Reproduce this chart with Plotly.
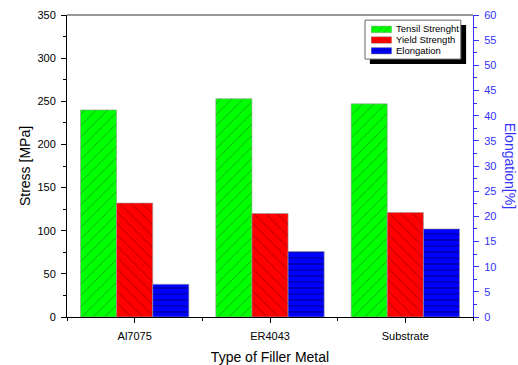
import plotly.graph_objects as go

# Filler metal categories and measured properties
fillers = ["Al7075", "ER4043", "Substrate"]
tensile_strength = [240, 253, 247]      # MPa
yield_strength = [132, 120, 121]        # MPa
elongation = [6.5, 13.0, 17.5]          # %

series_names = ["Tensil Strenght", "Yield Strength", "Elongation"]
series_colors = ["#00ff00", "#ff0000", "#0000ff"]
hatch_shapes = ["/", "\\", "-"]
hatch_colors = ["#1a5a1a", "#5a0000", "#000033"]

bar_w = 0.267
font = "Arial, Liberation Sans, sans-serif"
positions = list(range(len(fillers)))


def pattern(i, size):
    return dict(shape=hatch_shapes[i], bgcolor=series_colors[i],
                fgcolor=hatch_colors[i], fgopacity=0.75 if i < 2 else 0.9,
                size=size, solidity=0.08 if i < 2 else 0.12)


fig = go.Figure()

values = [tensile_strength, yield_strength, elongation]
axes = ["y", "y", "y2"]
for i in range(3):
    fig.add_trace(go.Bar(
        x=positions, y=values[i], name=series_names[i],
        width=bar_w, offset=(i - 1.5) * bar_w,
        marker=dict(color=series_colors[i],
                    line=dict(color="#9a9a9a", width=0.6),
                    pattern=pattern(i, 8 if i < 2 else 6)),
        yaxis=axes[i], showlegend=False,
    ))

# Legend swatches: one short horizontal bar per series in a small inset axis
for i in range(3):
    fig.add_trace(go.Bar(
        y=[i], x=[1], base=0, orientation="h", width=0.62,
        marker=dict(color=series_colors[i],
                    line=dict(color="#9a9a9a", width=0.5),
                    pattern=pattern(i, 5 if i < 2 else 4)),
        xaxis="x3", yaxis="y3", showlegend=False, hoverinfo="skip",
    ))

legend_text = [dict(
    text=series_names[i], xref="paper", yref="paper",
    x=0.806, y=0.955 - i * 0.0365, xanchor="left", yanchor="middle",
    showarrow=False, font=dict(size=9.5, family=font, color="black"),
) for i in range(3)]

# Grey frame line along the top of the plot area
fig.add_shape(type="line", xref="paper", yref="paper",
              x0=0, x1=1, y0=1, y1=1, line=dict(color="#777", width=1.5))

# Legend frame with its drop shadow
fig.add_shape(type="rect", xref="paper", yref="paper",
              x0=0.746, x1=0.983, y0=0.838, y1=0.967,
              fillcolor="black", line=dict(width=0), layer="below")
fig.add_shape(type="rect", xref="paper", yref="paper",
              x0=0.734, x1=0.970, y0=0.854, y1=0.983,
              fillcolor="white", line=dict(color="#666", width=1), layer="below")

fig.update_layout(
    width=518, height=365,
    margin=dict(l=67, r=45, t=15, b=48),
    paper_bgcolor="white", plot_bgcolor="white",
    font=dict(family=font, size=11, color="black"),
    showlegend=False,
    xaxis=dict(
        range=[-0.5, 2.5], automargin=False,
        tickmode="array", tickvals=positions, ticktext=fillers,
        showline=True, linecolor="black", linewidth=1,
        ticks="outside", ticklen=5, tickcolor="black", ticklabelstandoff=4,
        minor=dict(dtick=0.5, tick0=-0.5, ticks="outside", ticklen=3,
                   tickcolor="black"),
        showgrid=False, zeroline=False,
        title=dict(text="Type of Filler Metal", font=dict(size=14), standoff=14),
        tickfont=dict(size=11),
    ),
    yaxis=dict(
        range=[0, 350], dtick=50, automargin=False,
        showline=True, linecolor="black", linewidth=1,
        ticks="outside", ticklen=5, tickcolor="black", ticklabelstandoff=3,
        minor=dict(dtick=25, ticks="outside", ticklen=3, tickcolor="black"),
        showgrid=False, zeroline=False,
        title=dict(text="Stress [MPa]", font=dict(size=14), standoff=3),
        tickfont=dict(size=11),
    ),
    yaxis2=dict(
        range=[0, 60], dtick=5, overlaying="y", side="right", automargin=False,
        showline=True, linecolor="#3333ff", linewidth=1,
        ticks="outside", ticklen=5, tickcolor="#3333ff", ticklabelstandoff=3,
        minor=dict(dtick=2.5, ticks="outside", ticklen=3, tickcolor="#3333ff"),
        showgrid=False, zeroline=False,
        tickfont=dict(size=11, color="#3333ff"),
    ),
    xaxis3=dict(domain=[0.749, 0.800], range=[0, 1], anchor="y3",
                visible=False, fixedrange=True),
    yaxis3=dict(domain=[0.864, 0.970], range=[2.5, -0.5], anchor="x3",
                visible=False, fixedrange=True),
    annotations=legend_text + [dict(
        text="Elongation[%]", xref="paper", yref="paper",
        x=1.092, y=0.5, xanchor="center", yanchor="middle",
        textangle=90, showarrow=False,
        font=dict(size=14, color="#3333ff", family=font),
    )],
)

fig.write_html("out.html")
